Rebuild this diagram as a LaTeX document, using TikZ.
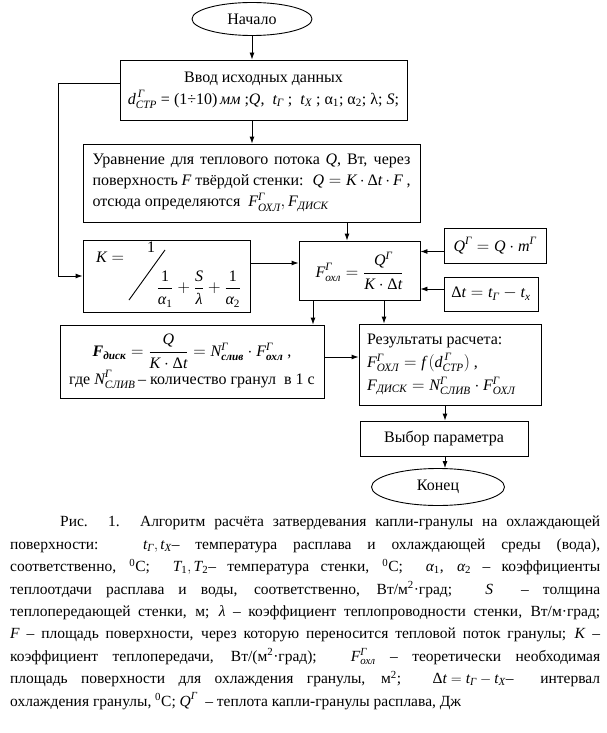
\documentclass[tikz,border=0pt]{standalone}
\usepackage{amsmath}
\usepackage{fontspec}
\setmainfont{Liberation Serif}
\newfontfamily\serif{Liberation Serif}
\usetikzlibrary{shapes.geometric,arrows.meta}
\newcommand{\I}[1]{\textit{#1}}
\newcommand{\D}[1]{\text{#1}}
\newcommand{\fs}{\serif\fontsize{16}{21}\selectfont}
\newcommand{\capfs}{\serif\fontsize{15.5}{22.4}\selectfont}
\begin{document}
\begin{tikzpicture}[x=1pt,y=-1pt,
  box/.style={draw,line width=0.9pt,rectangle,inner sep=0pt,font=\fs},
  oval/.style={draw,line width=0.9pt,ellipse,inner sep=0pt,font=\fs},
  arr/.style={-{Latex[length=7pt,width=5pt]},line width=0.9pt},
  ln/.style={line width=0.9pt}]
\useasboundingbox[fill=white] (0,0) rectangle (607,733);
% nodes
\node[oval,minimum width=120,minimum height=33] (start) at (252,19) {Начало};
\node[box,minimum width=287,minimum height=60,align=center] (inp) at (263.5,90)
  {Ввод исходных данных\\[1pt]
   $\I{d}^{\,\I{Г}}_{\I{СТР}}$ = (1÷10)\,\I{мм} ;\I{Q}, \ $\I{t}_{\I{Г}}$ ; \ $\I{t}_{\I{Х}}$ ; α\textsubscript{1}; α\textsubscript{2}; λ; \I{S};};
\node[box,minimum width=337,minimum height=78] (eq) at (251.5,183)
  {\parbox{318pt}{\baselineskip=21pt Уравнение для теплового потока \I{Q}, Вт, через\linebreak
   поверхность \I{F} твёрдой стенки: \ $\I{Q}=\I{K}\cdot\text{Δ}\I{t}\cdot\I{F}$ ,\\
   отсюда определяются \ $\I{F}^{\I{Г}}_{\I{ОХЛ}},\I{F}_{\I{ДИСК}}$}};
\node[box,minimum width=167,minimum height=72] (kbox) at (166.5,276) {};
\node[font=\fs,inner sep=1pt] (keq) at (110,257) {$\I{K}=$};
\node[font=\fs,inner sep=1pt] (kone) at (151,247) {1};
\node[font=\fs,inner sep=1pt] (kfr) at (199,289)
  {$\dfrac{\D{1}}{\I{α}_{\D{1}}}+\dfrac{\I{S}}{\I{λ}}+\dfrac{\D{1}}{\I{α}_{\D{2}}}$};
\coordinate (sl1) at (129,300);
\coordinate (sl2) at (165,250);
\draw[ln] (sl1) -- (sl2);
\node[box,minimum width=121,minimum height=59] (foxl) at (359.5,270.5)
  {$\I{F}^{\I{Г}}_{\I{охл}}=\dfrac{\I{Q}^{\I{Г}}}{\I{K}\cdot\text{Δ}\I{t}}$};
\node[box,minimum width=102,minimum height=35] (qg) at (495,245.5)
  {$\I{Q}^{\I{Г}}=\I{Q}\cdot\I{m}^{\I{Г}}$};
\node[box,minimum width=94,minimum height=34] (dt) at (491,294)
  {$\text{Δ}\I{t}=\I{t}_{\I{Г}}-\I{t}_{\I{х}}$};
\node[box,minimum width=264,minimum height=73,align=center] (fdisk) at (192,361.5)
  {$\I{\textbf{F}}_{\I{\textbf{диск}}}=\dfrac{\I{Q}}{\I{K}\cdot\text{Δ}\I{t}}=\I{N}^{\I{Г}}_{\I{\textbf{слив}}}\cdot\I{F}^{\I{Г}}_{\I{\textbf{охл}}}$ ,\\[1pt]
   где $\I{N}^{\I{Г}}_{\I{СЛИВ}}$\,– количество гранул \ в 1 с};
\node[box,minimum width=182,minimum height=81] (res) at (450,364.5)
  {\parbox{166pt}{\baselineskip=23pt Результаты расчета:\\
   $\I{F}^{\I{Г}}_{\I{ОХЛ}}=\I{f}\,(\I{d}^{\,\I{Г}}_{\I{СТР}})$ ,\\
   $\I{F}_{\I{ДИСК}}=\I{N}^{\I{Г}}_{\I{СЛИВ}}\cdot\I{F}^{\I{Г}}_{\I{ОХЛ}}$}};
\node[box,minimum width=168,minimum height=35] (vyb) at (444,438.5) {Выбор параметра};
\node[oval,minimum width=133,minimum height=37] (end) at (438,487) {Конец};
% connectors
\draw[arr] (start.south) -- (start.south |- inp.north);
\draw[arr] (start.south |- inp.south) -- (start.south |- eq.north);
\draw[arr] ([xshift=-12.5pt]foxl.north |- eq.south) -- ([xshift=-12.5pt]foxl.north);
\draw[arr] ([yshift=7pt]inp.west) -- ++(-61,0) |- (kbox.west);
\draw[arr] ([yshift=13pt]kbox.east) -- ([yshift=13pt]kbox.east -| foxl.west);
\draw[arr] ([yshift=-6pt]qg.west) -- ([yshift=-6pt]qg.west -| foxl.east);
\draw[arr] ([yshift=5pt]dt.west) -- ([yshift=5pt]dt.west -| foxl.east);
\draw[arr] ([xshift=-46.5pt]foxl.south) -- ([xshift=-46.5pt]foxl.south |- fdisk.north);
\draw[arr] ([xshift=24.5pt]foxl.south) -- ([xshift=24.5pt]foxl.south |- res.north);
\draw[arr] ([yshift=4.5pt]fdisk.east) -- ([yshift=4.5pt]fdisk.east -| res.west);
\draw[arr] ([xshift=-5pt]res.south) -- ([xshift=-5pt]res.south |- vyb.north);
\draw[arr] ([xshift=1pt]vyb.south) -- ([xshift=1pt]vyb.south |- end.north);
% caption
\node[anchor=north west,inner sep=0pt,font=\capfs] (cap) at (10,516)
 {\parbox{590pt}{\baselineskip=22.4pt\noindent\hspace*{50pt}Рис. 1. Алгоритм расчёта затвердевания капли-гранулы на охлаждающей\linebreak
 поверхности: \quad \mbox{$\I{t}_{\I{Г}},\I{t}_{\I{Х}}$–} температура расплава и охлаждающей среды (вода),\linebreak
 соответственно, \textsuperscript{0}C; \ \mbox{$\I{T}_{\D{1}},\I{T}_{\D{2}}$–} температура стенки, \textsuperscript{0}C; \ $\I{α}_{\D{1}}$, $\I{α}_{\D{2}}$ – коэффициенты\linebreak
 теплоотдачи расплава и воды, соответственно, Вт/м\textsuperscript{2}·град; \ \I{S} \ – толщина\linebreak
 теплопередающей стенки, м; \I{λ} – коэффициент теплопроводности стенки, Вт/м·град;\linebreak
 \I{F} – площадь поверхности, через которую переносится тепловой поток гранулы; \I{K} –\linebreak
 коэффициент теплопередачи, Вт/(м\textsuperscript{2}·град); \ \mbox{$\I{F}^{\I{Г}}_{\I{охл}}$} – теоретически необходимая\linebreak
 площадь поверхности для охлаждения гранулы, м\textsuperscript{2}; \ \mbox{$\text{Δ}\I{t}=\I{t}_{\I{Г}}-\I{t}_{\I{Х}}$–} \ интервал\linebreak
 охлаждения гранулы, \textsuperscript{0}C; \mbox{$\I{Q}^{\I{Г}}$} \ – теплота капли-гранулы расплава, Дж}};
\end{tikzpicture}
\end{document}
